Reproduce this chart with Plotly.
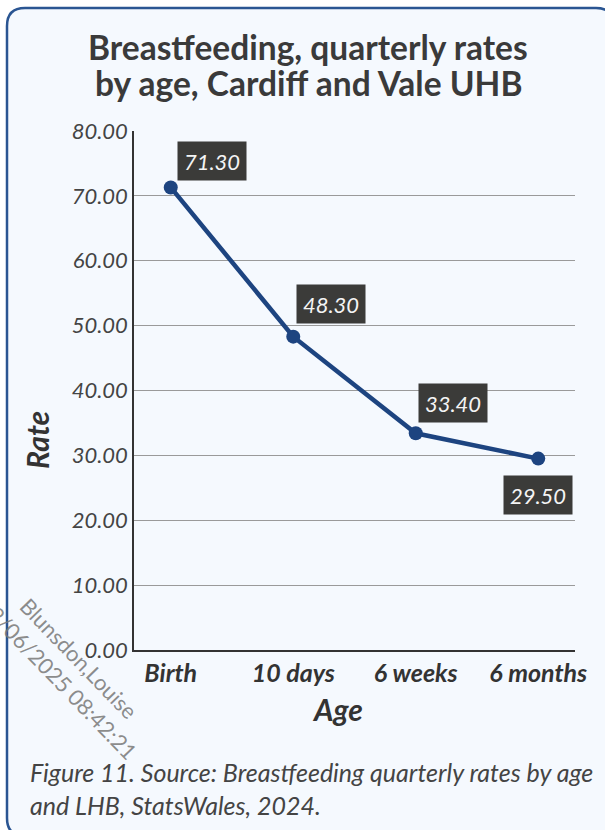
import plotly.graph_objects as go

# Breastfeeding rates by age, Cardiff and Vale UHB
ages = ["Birth", "10 days", "6 weeks", "6 months"]
rates = [71.30, 48.30, 33.40, 29.50]
y_ticks = [0, 10, 20, 30, 40, 50, 60, 70, 80]

# label offsets (pixels) for each value box
label_dx = [41, 38, 37, 0]
label_dy = [26, 33, 30, -36]

W, H = 605, 830
L, R, T, B = 134, 30, 131, 180
PW, PH = W - L - R, H - T - B


def px(x):
    return (x - L) / PW


def py(y):
    return (H - B - y) / PH


FONT = "Lato"
LINE_COLOR = "#1d4480"

fig = go.Figure()
fig.add_trace(go.Scatter(
    x=ages, y=rates, mode="lines+markers",
    line=dict(color=LINE_COLOR, width=4.5),
    marker=dict(color=LINE_COLOR, size=14),
    hoverinfo="skip", showlegend=False,
))

annotations = []
for a, v, dx, dy in zip(ages, rates, label_dx, label_dy):
    annotations.append(dict(
        x=a, y=v, xref="x", yref="y", text=f"{v:.2f}", showarrow=False,
        xshift=dx, yshift=dy, width=68, height=38, borderpad=0,
        bgcolor="#3b3b39", align="center", valign="middle",
        font=dict(family=FONT, size=22, color="#f4f4f4", style="italic"),
    ))


def note(x, y, text, **kw):
    d = dict(xref="paper", yref="paper", x=px(x), y=py(y), text=text,
             showarrow=False, xanchor="center", yanchor="middle")
    d.update(kw)
    annotations.append(d)


# chart title, one line at a time
title_font = dict(family=FONT, size=33.5, color="#3a3a3a", weight=700)
note(308, 47, "Breastfeeding, quarterly rates", font=title_font)
note(308, 83, "by age, Cardiff and Vale UHB", font=title_font)

# axis titles
axis_font = dict(family=FONT, size=30, color="#333333", weight=700, style="italic")
note(37, 440, "Rate", textangle=-90, font=axis_font)
note(337, 709, "Age", font=axis_font)

# caption
cap_font = dict(family=FONT, size=25, color="#444444", style="italic")
note(28, 772, "Figure 11. Source: Breastfeeding quarterly rates by age",
     xanchor="left", font=cap_font)
note(28, 805, "and LHB, StatsWales, 2024.", xanchor="left", font=cap_font)

# user stamp
note(68, 668, "Blunsdon,Louise<br>12/06/2025 08:42:21", textangle=46,
     align="center", font=dict(family=FONT, size=22, color="rgba(120,120,120,0.85)"))

# rounded card behind everything (right and bottom edges run past the page)
x0, x1, y0, y1, r = px(7), px(614), py(8), py(836), 18
rx, ry = r / PW, r / PH
card = (f"M {x0 + rx},{y0} L {x1 - rx},{y0} Q {x1},{y0} {x1},{y0 - ry} "
        f"L {x1},{y1 + ry} Q {x1},{y1} {x1 - rx},{y1} L {x0 + rx},{y1} "
        f"Q {x0},{y1} {x0},{y1 + ry} L {x0},{y0 - ry} Q {x0},{y0} {x0 + rx},{y0} Z")

fig.update_layout(
    width=W, height=H,
    margin=dict(l=L, r=R, t=T, b=B),
    paper_bgcolor="white",
    plot_bgcolor="rgba(0,0,0,0)",
    annotations=annotations,
    shapes=[dict(type="path", xref="paper", yref="paper", path=card,
                 fillcolor="#f5f9fe", line=dict(color="#2a5592", width=2.5),
                 layer="below")],
    xaxis=dict(
        type="category", range=[-0.3, 3.3], showgrid=False,
        showline=True, linecolor="#333333", linewidth=2,
        ticks="", tickfont=dict(family=FONT, size=25, color="#333333",
                                weight=700, style="italic"),
        fixedrange=True,
    ),
    yaxis=dict(
        range=[0, 80], tickvals=y_ticks, tickformat=".2f",
        showgrid=True, gridcolor="#9a9a9a", gridwidth=1,
        showline=True, linecolor="#333333", linewidth=1.5,
        zeroline=False, ticks="",
        tickfont=dict(family=FONT, size=22, color="#444444", style="italic"),
        fixedrange=True,
    ),
)

fig.write_html("out.html", config={"displayModeBar": False})
